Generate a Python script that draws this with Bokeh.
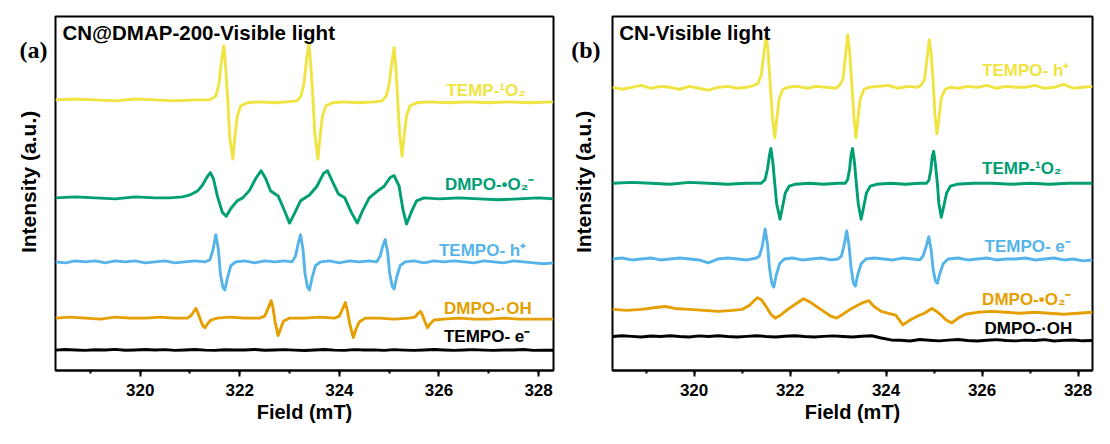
from math import pi
from bokeh.plotting import figure
from bokeh.layouts import row
from bokeh.models import Label, SingleIntervalTicker, Range1d
from bokeh.core.properties import value
from bokeh.embed import file_html
from bokeh.resources import INLINE

# ---------------- data (field in mT, intensity in a.u.) ----------------
X_RANGE = (318.3, 328.3)
Y_RANGE = (0, 365)

GRID = [318.3, 318.5, 318.7, 318.9, 319.1, 319.3, 319.5, 319.7, 319.9, 320.1,
        320.3, 320.5, 320.7, 320.9, 321.1, 321.3, 321.5, 321.7, 321.9, 322.1,
        322.3, 322.5, 322.7, 322.9, 323.1, 323.3, 323.5, 323.7, 323.9, 324.1,
        324.3, 324.5, 324.7, 324.9, 325.1, 325.3, 325.5, 325.7, 325.9, 326.1,
        326.3, 326.5, 326.7, 326.9, 327.1, 327.3, 327.5, 327.7, 327.9, 328.1,
        328.3]

# Panel (a): CN@DMAP-200
A_F_Y = [318.30, 318.70, 319.10, 319.50, 319.90, 320.30, 320.70, 321.10, 321.40,
         321.52, 321.58, 321.63, 321.68, 321.72, 321.76, 321.80, 321.86, 321.90, 321.95, 322.02, 322.15,
         322.40, 322.70, 322.95, 323.15,
         323.23, 323.29, 323.34, 323.39, 323.43, 323.47, 323.51, 323.57, 323.61, 323.66, 323.73, 323.86,
         324.10, 324.40, 324.70, 324.86,
         324.94, 325.00, 325.05, 325.10, 325.14, 325.17, 325.21, 325.26, 325.30, 325.35, 325.42, 325.55,
         325.80, 326.20, 326.60, 327.00, 327.40, 327.80, 328.30]
A_I_Y = [279, 280, 279, 278, 280, 279, 278, 279, 279,
         283, 295, 318, 335, 310, 279, 240, 218, 240, 262, 273, 276,
         277, 276, 277, 278,
         283, 296, 320, 337, 312, 280, 242, 218, 240, 262, 273, 276,
         277, 276, 277, 278,
         283, 295, 316, 333, 308, 280, 244, 221, 242, 263, 273, 276,
         277, 276, 277, 276, 277, 276, 277]

A_F_G = [318.30, 318.70, 319.10, 319.50, 319.90, 320.30, 320.60, 320.85, 321.00, 321.15,
         321.25, 321.35, 321.41, 321.47, 321.55, 321.65, 321.73, 321.82, 321.95, 322.06,
         322.20, 322.32, 322.43, 322.52, 322.62, 322.77, 322.88, 323.00, 323.10, 323.22,
         323.40, 323.55, 323.68, 323.76, 323.86, 323.98, 324.11, 324.24, 324.36, 324.46,
         324.60, 324.74, 324.90, 325.02, 325.10, 325.20, 325.28, 325.35, 325.45, 325.55,
         325.70, 326.00, 326.40, 326.80, 327.20, 327.60, 328.00, 328.30]
A_I_G = [178, 179, 178, 177, 179, 178, 178, 179, 181, 185,
         191, 200, 204, 198, 180, 163, 159, 167, 175, 178,
         186, 198, 206, 198, 185, 180, 167, 152, 162, 175,
         181, 190, 203, 206, 195, 182, 178, 163, 152, 164,
         178, 184, 190, 199, 201, 190, 165, 151, 164, 175,
         178, 177, 178, 177, 176, 177, 178, 177]

A_F_B = [318.30, 318.50, 318.70, 318.90, 319.10, 319.30, 319.50, 319.70, 319.90, 320.10,
         320.30, 320.50, 320.70, 320.90, 321.10, 321.30,
         321.40, 321.46, 321.52, 321.57, 321.61, 321.66, 321.70, 321.75, 321.82, 321.92,
         322.10, 322.30, 322.50, 322.70, 322.90, 323.05,
         323.12, 323.17, 323.22, 323.27, 323.31, 323.36, 323.40, 323.45, 323.52, 323.62,
         323.80, 324.00, 324.20, 324.40, 324.60, 324.75,
         324.82, 324.87, 324.92, 324.97, 325.01, 325.06, 325.10, 325.15, 325.22, 325.32,
         325.50, 325.70, 325.90, 326.10, 326.30, 326.50, 326.70, 326.90, 327.10, 327.30,
         327.50, 327.70, 327.90, 328.10, 328.30]
A_I_B = [112, 111, 113, 112, 113, 111, 113, 112, 113, 111,
         112, 113, 111, 112, 113, 112,
         114, 124, 140, 125, 100, 86, 83, 95, 108, 112,
         113, 111, 113, 112, 113, 112,
         118, 130, 140, 125, 100, 86, 83, 95, 108, 112,
         113, 111, 113, 112, 113, 112,
         118, 128, 135, 122, 100, 87, 84, 96, 108, 112,
         113, 111, 113, 112, 113, 112, 111, 113, 112, 111,
         113, 112, 111, 110, 111]

A_F_O = [318.30, 318.60, 318.90, 319.20, 319.50, 319.80, 320.10, 320.40, 320.70,
         320.95, 321.03, 321.08, 321.12, 321.17, 321.22, 321.26, 321.30, 321.35, 321.42, 321.55,
         321.80, 322.10, 322.40,
         322.50, 322.56, 322.63, 322.67, 322.71, 322.77, 322.82, 322.88, 323.00,
         323.30, 323.60, 323.90,
         324.00, 324.06, 324.12, 324.16, 324.21, 324.28, 324.33, 324.40, 324.52,
         324.80, 325.10, 325.40,
         325.52, 325.58, 325.63, 325.67, 325.72, 325.77, 325.82, 325.90,
         326.10, 326.40, 326.70, 327.00, 327.30, 327.60, 327.90, 328.30]
A_I_O = [54, 55, 54, 53, 55, 54, 54, 55, 54,
         54, 57, 61, 64, 58, 51, 46, 44, 48, 52, 54,
         55, 54, 54,
         56, 63, 72, 64, 50, 36, 43, 51, 54,
         54, 55, 54,
         56, 63, 70, 62, 48, 34, 42, 50, 54,
         54, 53, 54,
         55, 59, 61, 57, 50, 44, 48, 52,
         53, 54, 53, 53, 54, 53, 53, 53]

A_I_K = [21.0, 21.6, 21.2, 20.7, 21.4, 21.1, 21.8, 20.9, 21.2, 21.7,
         21.1, 21.5, 20.8, 21.2, 21.6, 21.0, 20.7, 21.4, 21.1, 21.2,
         21.6, 20.9, 21.2, 21.5, 21.0, 20.6, 21.2, 21.6, 21.0, 20.8,
         21.5, 21.1, 21.3, 20.8, 21.5, 21.0, 20.7, 21.2, 21.6, 21.1,
         20.7, 21.2, 21.5, 21.0, 20.7, 21.1, 21.2, 21.6, 20.8, 21.0,
         20.9]

# Panel (b): CN
B_F_Y = [318.30, 318.50, 318.70, 318.90, 319.10, 319.30, 319.50, 319.70, 319.90, 320.10,
         320.30, 320.50, 320.70, 320.90, 321.10, 321.25,
         321.33, 321.40, 321.45, 321.50, 321.54, 321.58, 321.63, 321.68, 321.72, 321.77, 321.85, 321.95,
         322.15, 322.35, 322.55, 322.75, 322.95,
         323.03, 323.10, 323.15, 323.20, 323.24, 323.28, 323.33, 323.37, 323.41, 323.46, 323.54, 323.64,
         323.85, 324.05, 324.25, 324.45, 324.65,
         324.73, 324.80, 324.85, 324.90, 324.94, 324.98, 325.02, 325.06, 325.10, 325.15, 325.23, 325.33,
         325.50, 325.70, 325.90, 326.10, 326.30, 326.50, 326.70, 326.90, 327.10, 327.30,
         327.50, 327.70, 327.90, 328.10, 328.30]
B_I_Y = [292, 290, 292, 294, 291, 293, 292, 290, 293, 291,
         289, 292, 293, 291, 292, 294,
         296, 305, 325, 345, 330, 300, 262, 240, 258, 280, 290, 292,
         293, 291, 293, 292, 291,
         294, 300, 322, 346, 330, 300, 262, 240, 258, 280, 290, 292,
         293, 294, 291, 293, 292,
         294, 300, 320, 341, 326, 298, 262, 244, 260, 281, 290, 292,
         291, 293, 292, 294, 291, 293, 292, 292, 294, 291,
         292, 295, 291, 292, 293]

B_F_G = [318.30, 318.70, 319.10, 319.50, 319.90, 320.30, 320.70, 321.10, 321.40,
         321.48, 321.53, 321.57, 321.60, 321.64, 321.68, 321.72, 321.79, 321.84, 321.90, 321.98, 322.10,
         322.40, 322.70, 323.00, 323.15,
         323.20, 323.24, 323.27, 323.30, 323.34, 323.38, 323.42, 323.48, 323.53, 323.59, 323.67, 323.80,
         324.10, 324.40, 324.70, 324.84,
         324.89, 324.93, 324.96, 324.99, 325.03, 325.07, 325.10, 325.15, 325.20, 325.26, 325.34, 325.47,
         325.80, 326.20, 326.60, 327.00, 327.40, 327.80, 328.30]
B_I_G = [193, 194, 193, 192, 194, 193, 192, 193, 193,
         197, 208, 222, 229, 215, 193, 172, 156, 168, 183, 190, 192,
         193, 192, 193, 193,
         197, 208, 222, 229, 215, 193, 172, 156, 168, 183, 190, 192,
         193, 192, 193, 193,
         196, 206, 220, 226, 212, 192, 172, 158, 169, 183, 190, 192,
         193, 193, 192, 193, 192, 193, 193]

B_F_B = [318.30, 318.50, 318.70, 318.90, 319.10, 319.30, 319.50, 319.70, 319.90, 320.10,
         320.30, 320.50, 320.70, 320.90, 321.10, 321.30,
         321.36, 321.42, 321.48, 321.53, 321.57, 321.62, 321.66, 321.71, 321.78, 321.88,
         322.05, 322.25, 322.45, 322.65, 322.85, 323.00,
         323.07, 323.12, 323.18, 323.23, 323.27, 323.32, 323.36, 323.41, 323.48, 323.58,
         323.75, 323.95, 324.15, 324.35, 324.55, 324.70,
         324.77, 324.83, 324.89, 324.94, 324.98, 325.03, 325.07, 325.12, 325.19, 325.29,
         325.50, 325.70, 325.90, 326.10, 326.30, 326.50, 326.70, 326.90, 327.10, 327.30,
         327.50, 327.70, 327.90, 328.10, 328.30]
B_I_B = [115, 116, 114, 115, 116, 114, 115, 116, 115, 114,
         111, 115, 116, 115, 114, 116,
         118, 128, 146, 130, 106, 90, 86, 98, 110, 115,
         116, 114, 115, 116, 114, 115,
         118, 128, 144, 128, 106, 90, 87, 99, 110, 115,
         116, 115, 114, 116, 115, 114,
         118, 127, 138, 124, 104, 92, 90, 100, 110, 115,
         116, 114, 115, 116, 114, 115, 115, 116, 114, 115,
         116, 114, 115, 113, 114]

B_F_O = [318.30, 318.60, 318.90, 319.20, 319.40, 319.60, 319.90, 320.20, 320.50, 320.80,
         321.00, 321.15, 321.25, 321.32, 321.40, 321.50, 321.60, 321.69, 321.80, 321.95,
         322.10, 322.28, 322.40, 322.55, 322.70, 322.85, 322.97, 323.10, 323.25, 323.40,
         323.52, 323.64, 323.75, 323.90, 324.05, 324.20, 324.35, 324.50, 324.65, 324.80,
         324.95, 325.05, 325.15, 325.25, 325.37, 325.50, 325.65, 325.90, 326.20, 326.50,
         326.80, 327.10, 327.40, 327.70, 328.00, 328.30]
B_I_O = [63, 62, 63, 65, 66, 64, 63, 62, 61, 62,
         63, 67, 72, 75, 73, 66, 58, 54, 57, 63,
         68, 74, 71, 66, 61, 56, 54, 58, 63, 67,
         70, 72, 66, 61, 59, 57, 47, 52, 56, 59,
         64, 61, 57, 52, 49, 54, 58, 60, 61, 60,
         59, 60, 59, 58, 59, 60]

B_I_K = [35.0, 35.8, 35.2, 34.5, 35.6, 35.0, 35.9, 35.1, 34.6, 35.7,
         35.1, 35.8, 35.0, 34.5, 35.2, 35.9, 35.1, 34.6, 35.3, 35.8,
         35.0, 34.6, 35.2, 35.7, 35.1, 34.6, 35.3, 35.8, 33.5, 31.5,
         31.2, 30.4, 32.0, 31.2, 30.5, 31.3, 31.9, 31.0, 30.4, 31.2,
         31.8, 31.0, 30.5, 31.3, 31.0, 31.8, 30.4, 31.1, 31.4, 30.6,
         31.0]

YELLOW, GREEN, BLUE, ORANGE, BLACK = "#F0E442", "#009E73", "#56B4E9", "#E69F00", "#000000"

A_CURVES = [(A_F_Y, A_I_Y, YELLOW), (A_F_G, A_I_G, GREEN), (A_F_B, A_I_B, BLUE),
            (A_F_O, A_I_O, ORANGE), (GRID, A_I_K, BLACK)]
B_CURVES = [(B_F_Y, B_I_Y, YELLOW), (B_F_G, B_I_G, GREEN), (B_F_B, B_I_B, BLUE),
            (B_F_O, B_I_O, ORANGE), (GRID, B_I_K, BLACK)]

A_LABELS = [("TEMP-\u00b9O\u2082", 326.15, 289, YELLOW),
            ("DMPO-\u2022O\u2082\u207b", 326.12, 192, GREEN),
            ("TEMPO- h\u207a", 326.00, 124, BLUE),
            ("DMPO-\u00b7OH", 326.10, 64, ORANGE),
            ("TEMPO- e\u207b", 326.10, 35, BLACK)]
B_LABELS = [("TEMPO- h\u207a", 326.00, 309, YELLOW),
            ("TEMP-\u00b9O\u2082", 326.00, 208, GREEN),
            ("TEMPO- e\u207b", 326.05, 128, BLUE),
            ("DMPO-\u2022O\u2082\u207b", 326.00, 73, ORANGE),
            ("DMPO-\u00b7OH", 326.05, 43, BLACK)]

FONT = "Liberation Sans"
H = 428


def make_side(width, tag, tag_right, ylabel_x):
    t = figure(width=width, height=H, x_range=Range1d(0, width), y_range=Range1d(0, H),
               x_axis_type=None, y_axis_type=None, toolbar_location=None,
               output_backend="svg", min_border=0)
    t.outline_line_color = None
    t.grid.visible = False
    t.text(x=[tag_right], y=[H - 40], text=[tag], text_color="black",
           text_font=value("Liberation Serif"), text_font_style="bold",
           text_font_size="24px", text_align="right", text_baseline="middle")
    t.text(x=[ylabel_x], y=[H - 200], text=["Intensity (a.u.)"], angle=pi / 2,
           text_color="black", text_font=value(FONT), text_font_style="bold",
           text_font_size="21px", text_align="center", text_baseline="middle")
    return t


def make_panel(width, left, right, title, curves, labels):
    p = figure(width=width, height=H, x_range=Range1d(*X_RANGE), y_range=Range1d(*Y_RANGE),
               y_axis_type=None, output_backend="svg", toolbar_location=None,
               min_border_left=left, min_border_right=right, min_border_top=16,
               min_border_bottom=58)
    p.xgrid.grid_line_color = None
    p.ygrid.grid_line_color = None
    p.outline_line_color = "black"
    p.outline_line_width = 2
    p.outline_line_alpha = 1

    p.xaxis.ticker = SingleIntervalTicker(interval=2, num_minor_ticks=2)
    p.xaxis.axis_line_width = 2
    p.xaxis.axis_line_color = "black"
    p.xaxis.major_tick_line_width = 2
    p.xaxis.minor_tick_line_width = 2
    p.xaxis.major_tick_line_color = "black"
    p.xaxis.minor_tick_line_color = "black"
    p.xaxis.major_tick_in = 0
    p.xaxis.major_tick_out = 6
    p.xaxis.minor_tick_in = 0
    p.xaxis.minor_tick_out = 3
    p.xaxis.major_label_text_font = FONT
    p.xaxis.major_label_text_font_style = "bold"
    p.xaxis.major_label_text_font_size = "17px"
    p.xaxis.major_label_text_color = "black"
    p.xaxis.major_label_standoff = 7
    p.xaxis.axis_label = "Field (mT)"
    p.xaxis.axis_label_text_font = FONT
    p.xaxis.axis_label_text_font_style = "bold"
    p.xaxis.axis_label_text_font_size = "20px"
    p.xaxis.axis_label_text_color = "black"
    p.xaxis.axis_label_standoff = 2

    for fx, fy, col in curves:
        p.line(fx, fy, line_color=col, line_width=2.9, line_join="round")

    for text, lx, ly, col in labels:
        p.add_layout(Label(x=lx, y=ly, text=text, text_color=col, text_font=FONT,
                           text_font_style="bold", text_font_size="17px",
                           text_align="left", text_baseline="middle"))

    p.add_layout(Label(x=318.44, y=348, text=title, text_color="black", text_font=FONT,
                       text_font_style="bold", text_font_size="20.5px",
                       text_align="left", text_baseline="middle"))
    return p


side_a = make_side(53, "(a)", 47, 28)
pa = make_panel(507, 2, 7, "CN@DMAP-200-Visible light", A_CURVES, A_LABELS)
side_b = make_side(50, "(b)", 40, 23)
pb = make_panel(484, 2, 2, "CN-Visible light", B_CURVES, B_LABELS)

layout = row(side_a, pa, side_b, pb)
open("out.html", "w").write(file_html(layout, INLINE))
